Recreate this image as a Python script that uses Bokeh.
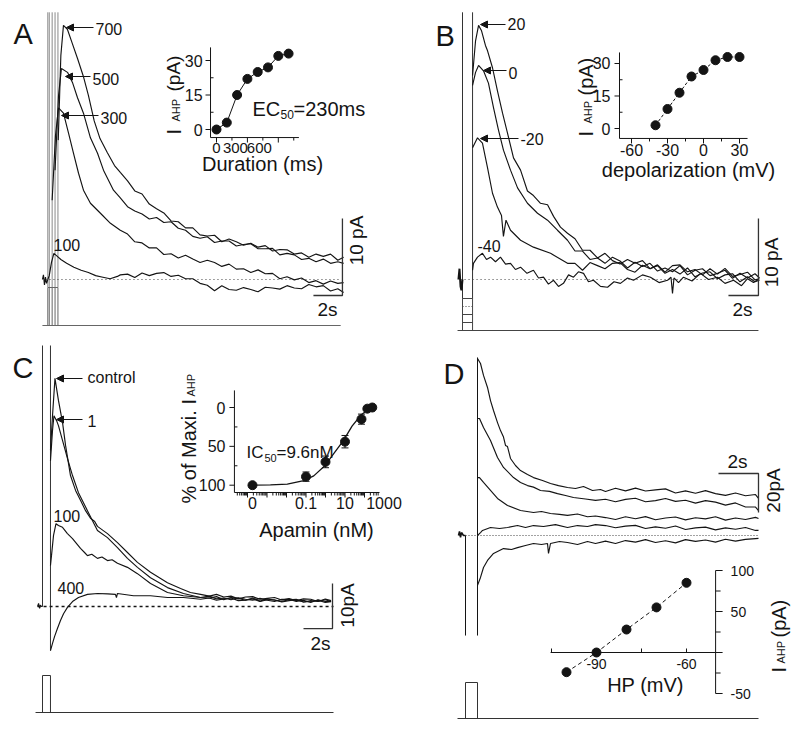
import math
from bokeh.plotting import figure
from bokeh.models import Range1d, LogScale, Arrow, NormalHead
from bokeh.core.properties import value
from bokeh.embed import file_html
from bokeh.resources import INLINE

# ============================ DATA ============================
# ---- Panel A: I_AHP after depolarizing pulses of 100-700 ms (time s, current pA)
A_PULSES_S = [0.1, 0.3, 0.5, 0.7]
A_PRE = [(-0.37, 0.0), (-0.30, 0.6), (-0.23, -0.7), (-0.16, 0.3), (-0.09, -0.5), (0.0, 0.0)]
A_TAIL_T = [5.0, 5.5, 6.0, 6.5, 7.0, 7.5, 8.0, 8.5, 9.0, 9.5, 10.0, 10.5, 11.0, 11.5, 12.0, 12.5,
            13.0, 13.5, 14.0, 14.5, 15.0, 15.5, 16.0, 16.5, 17.0, 17.5, 18.0, 18.5, 19.0, 19.5, 20.0, 20.4]
A700_EARLY = [(0.72, 18.1), (0.90, 29.1), (1.08, 33.0), (1.35, 32.5), (1.70, 30.6), (2.05, 28.7),
              (2.45, 26.4), (2.80, 23.9), (3.20, 20.6), (3.60, 18.3), (4.10, 16.5), (4.60, 14.8)]
A700_TAIL = [13.9, 12.8, 11.5, 11.1, 9.8, 9.2, 8.65, 7.6, 7.5, 6.7, 6.7, 5.8, 5.65, 5.75, 4.9, 5.25,
             4.9, 4.45, 4.7, 4.2, 4.4, 3.7, 3.9, 3.85, 3.3, 3.45, 2.9, 3.3, 3.0, 3.3, 2.5, 2.9]
A500_EARLY = [(0.50, 14.2), (0.74, 23.9), (0.94, 27.4), (1.36, 26.9), (1.70, 25.6), (2.05, 23.6),
              (2.46, 21.6), (2.94, 18.4), (3.43, 16.4), (3.84, 14.2), (4.53, 11.6)]
A500_TAIL = [10.6, 9.45, 8.9, 8.5, 7.85, 8.05, 7.4, 7.5, 6.65, 6.4, 5.6, 5.35, 5.55, 4.8, 5.0, 5.0,
             4.35, 4.55, 4.65, 4.0, 4.0, 4.05, 3.2, 3.4, 3.2, 2.6, 2.75, 2.3, 2.65, 2.1, 2.3, 2.1]
A300_EARLY = [(0.30, 10.3), (0.53, 18.7), (0.74, 22.3), (1.08, 21.6), (1.43, 19.0), (1.77, 16.4),
              (2.12, 13.8), (2.46, 11.6), (2.94, 9.9), (3.63, 8.6), (4.32, 7.3)]
A300_TAIL = [6.4, 5.9, 4.9, 4.75, 4.1, 4.1, 3.25, 3.35, 2.8, 3.15, 2.65, 2.2, 2.5, 2.2, 1.7, 2.0,
             1.35, 1.4, 0.9, 1.25, 0.75, 0.8, 0.1, 0.35, -0.05, 0.2, -0.4, -0.15, -0.6, -0.2, -0.5, -0.4]
A100_EARLY = [(0.0, 0.0), (0.10, 0.5), (0.25, 2.2), (0.42, 3.4), (0.60, 3.1), (0.90, 2.6),
              (1.30, 2.1), (1.80, 1.6), (2.30, 1.2), (2.80, 0.9), (3.30, 0.5), (3.80, 0.3),
              (4.30, 0.1), (4.80, 0.4)]
A100_TAIL = [0.6, 0.7, 0.25, 0.85, 0.5, 0.8, 0.9, 0.4, 0.55, 0.1, 0.1, -0.5, -0.75, -1.45, -0.8, -1.3,
             -1.4, -1.05, -1.3, -1.6, -1.0, -1.1, -1.25, -0.8, -1.1, -1.2, -0.65, -0.95, -0.8, -1.5, -1.2, -1.7]
A_DUR_MS = [0, 100, 200, 300, 400, 500, 600, 700]
A_IAHP = [0, 3, 15, 22, 25, 27, 32, 33]

# ---- Panel B: I_AHP after steps to -40..+20 mV (time s, current pA)
B_HOLD_MV = -60
B_STEPS_MV = [-40, -20, 0, 20]
B_PULSE_S = 0.67
B_PRE = [(-0.27, 0.0), (-0.20, 1.4), (-0.13, -0.9), (-0.07, -1.4), (0.0, 0.0)]
B_TAIL_T = [7.5, 8.0, 8.5, 9.0, 9.5, 10.0, 10.5, 11.0, 11.5, 12.0, 12.5, 13.0, 13.5, 14.0,
            14.5, 15.0, 15.5, 16.0, 16.5, 17.0, 17.5, 18.0, 18.5, 19.0, 19.5, 19.8]
B20_EARLY = [(0.67, 26.5), (0.87, 31.0), (1.07, 33.0), (1.27, 32.3), (1.53, 30.4), (1.67, 29.7),
             (2.00, 27.5), (2.33, 24.5), (2.67, 21.6), (3.00, 19.0), (3.40, 15.8), (3.87, 14.2),
             (4.33, 11.5), (4.73, 10.9), (5.20, 9.9), (5.67, 9.7), (6.07, 8.2), (6.53, 6.8), (7.00, 6.0)]
B20_TAIL = [5.3, 3.8, 3.8, 2.8, 3.4, 2.45, 2.0, 2.6, 2.1, 2.45, 1.4, 1.9, 0.95, 1.8, 1.9, 1.0,
            1.3, 0.6, 1.4, 0.7, 1.45, 0.4, 0.65, 0.95, -0.05, 0.1]
B0_EARLY = [(0.67, 25.2), (0.87, 26.9), (1.07, 27.8), (1.40, 27.1), (1.73, 25.5), (2.07, 22.3),
            (2.40, 19.4), (2.73, 16.8), (3.20, 14.2), (3.67, 11.9), (4.33, 9.9), (5.00, 8.6),
            (5.67, 7.7), (6.33, 6.4), (7.00, 5.1)]
B0_TAIL = [3.7, 3.7, 2.6, 2.8, 2.1, 2.9, 2.4, 1.5, 2.25, 1.7, 2.1, 1.1, 1.5, 1.0, 1.8, 0.6,
           1.2, 1.4, 0.5, 0.8, 1.2, 0.15, 0.8, 0.2, 0.75, 0.2]
BM20_EARLY = [(0.67, 17.1), (1.00, 18.4), (1.33, 17.7), (1.67, 14.5), (2.00, 11.2), (2.33, 9.4),
              (2.60, 8.3), (2.73, 5.6), (2.90, 7.7), (3.20, 6.4), (3.87, 5.1), (4.73, 4.2),
              (5.87, 3.4), (7.00, 2.1)]
BM20_TAIL = [2.1, 1.2, 2.2, 1.8, 1.4, 2.1, 2.2, 1.3, 0.95, 1.85, 1.4, 1.8, 0.8, 1.3, 0.7, 1.5,
             0.35, 0.85, 1.0, 0.1, 0.6, 0.75, -0.3, 0.35, -0.3, -0.1]
BM40 = [(0.67, 1.2), (0.73, 2.1), (1.00, 2.9), (1.33, 3.4), (1.60, 2.6), (1.87, 2.9), (2.20, 2.3),
        (2.53, 2.9), (2.87, 2.0), (3.20, 2.1), (3.53, 1.3), (3.87, 1.6), (4.30, 0.8), (4.73, 1.2),
        (5.07, 0.2), (5.40, 0.3), (5.73, -0.6), (6.07, -0.1), (6.40, -0.9), (6.73, -0.5),
        (7.07, 0.6), (7.40, 0.3), (7.73, 1.0), (8.07, 0.8), (8.40, -0.3), (8.73, -0.1),
        (9.20, -0.9), (9.67, -1.0), (10.10, -0.3), (10.53, -0.5), (11.00, 0.2), (11.40, -0.1),
        (12.00, 0.6), (12.53, 0.3), (13.10, -0.4), (13.67, -0.1), (13.90, 0.3), (14.00, -1.8),
        (14.10, 0.2), (14.40, -0.4), (14.73, 0.3), (15.30, -0.2), (15.87, 0.8), (16.40, 0.0),
        (17.00, 0.3), (17.50, -0.5), (18.07, -0.1), (18.60, -0.8), (19.00, 0.1), (19.40, -0.4),
        (19.73, 0.0)]
B_DEPOL_MV = [-40, -30, -20, -10, 0, 10, 20, 30]
B_IAHP = [1.5, 9.0, 16.5, 24.0, 27.0, 31.5, 33.0, 33.0]

# ---- Panel C: apamin block (time s, current pA)
C_PULSE_S = 0.55
C_PRE = [(-0.34, 0.0), (-0.27, 0.7), (-0.20, -0.4), (-0.14, 0.3), (-0.07, 0.0), (0.0, 0.0)]
C_TAIL_T = [11.5, 12.0, 12.5, 13.0, 13.5, 14.0, 14.5, 15.0, 15.5, 16.0, 16.5, 17.0, 17.5,
            18.0, 18.5, 19.0, 19.5, 19.9]
CCTL_EARLY = [(0.55, 34.7), (0.69, 42.4), (0.86, 50.7), (1.10, 45.8), (1.38, 40.9), (1.59, 35.8),
              (1.93, 29.1), (2.28, 25.8), (2.62, 23.6), (2.97, 21.3), (3.31, 19.6), (3.60, 18.9),
              (3.79, 17.8), (4.48, 16.2), (5.17, 14.2), (5.86, 12.0), (6.55, 9.8), (7.45, 7.6),
              (8.62, 5.3), (9.52, 4.0), (10.2, 3.1), (10.9, 2.7)]
CCTL_TAIL = [2.3, 2.7, 2.1, 2.3, 1.7, 2.1, 2.2, 1.6, 1.8, 2.0, 1.45, 1.75, 1.3, 1.7, 1.6, 1.1, 1.65, 1.3]
C1_EARLY = [(0.55, 32.4), (0.69, 39.1), (0.79, 42.4), (0.97, 41.3), (1.10, 40.2), (1.38, 36.9),
            (1.72, 32.9), (2.07, 29.1), (2.48, 25.3), (3.10, 21.3), (3.79, 16.9), (4.48, 15.3),
            (5.17, 13.1), (5.86, 10.7), (6.55, 8.7), (7.45, 6.4), (8.62, 4.2), (9.72, 2.9), (10.9, 2.0)]
C1_TAIL = [2.3, 1.7, 1.9, 1.5, 1.95, 1.6, 1.4, 1.8, 1.4, 1.1, 1.6, 1.6, 1.1, 1.4, 0.9, 1.5, 1.1, 1.1]
C100_EARLY = [(0.55, 9.1), (0.62, 11.3), (0.76, 15.8), (0.93, 18.4), (1.10, 18.0), (1.38, 17.6),
              (1.72, 16.2), (2.07, 15.1), (2.62, 12.9), (2.90, 12.0), (3.10, 11.3), (3.40, 11.6),
              (3.79, 10.7), (4.10, 11.0), (4.48, 10.2), (4.80, 10.4), (5.17, 9.6), (5.86, 8.7),
              (6.55, 7.3), (7.45, 5.1), (8.62, 3.1), (9.72, 2.4), (10.9, 2.0)]
C100_TAIL = [1.9, 2.2, 1.5, 2.0, 1.8, 1.4, 1.9, 1.2, 1.7, 1.4, 1.15, 1.5, 1.6, 1.0, 1.3, 1.1, 1.5, 1.1]
C400_EARLY = [(0.55, -9.8), (0.69, -8.2), (0.83, -6.7), (1.03, -4.9), (1.24, -3.1), (1.45, -1.6),
              (1.72, -0.2), (2.07, 1.1), (2.48, 2.0), (3.10, 2.7), (3.80, 2.9), (4.50, 2.8),
              (5.03, 2.7), (5.10, 2.0), (5.17, 2.9), (6.28, 2.4), (7.45, 2.4), (8.62, 2.0),
              (9.72, 2.0), (10.9, 1.6)]
C400_TAIL = [1.9, 1.4, 1.7, 1.9, 1.3, 1.4, 1.7, 1.1, 1.5, 1.5, 1.0, 1.3, 1.5, 1.0, 1.1, 1.4, 0.9, 1.1]
C_APAMIN_NM = [0, 0.1, 1, 10, 70, 140, 250]
C_PCT = [100, 89, 70, 44, 15, 1.5, 0]
C_ERR = [0, 6, 7.5, 8, 6.5, 2, 1]
C_FIT_NM = [0, 0.0015, 0.011, 0.077, 0.25, 0.92, 2.7, 8.1, 23, 70, 200, 370]
C_FIT_PCT = [100, 99.5, 98.5, 94, 88, 75, 59, 43, 24, 9, 1, -1]
C_ZERO_AT = 1.8e-4      # where the "0" (control) sits on the broken log axis

# ---- Panel D: holding potential series (time s, current pA)
D_PULSE_S = 0.6
D_PRE = [(-0.35, 0.0), (-0.30, 2.1), (-0.25, -1.0), (-0.20, 1.5), (-0.10, 0.0), (0.0, 0.0)]
D_TAIL_T = [7.0, 7.5, 8.0, 8.5, 9.0, 9.5, 10.0, 10.5, 11.0, 11.5, 12.0, 12.5, 13.0, 13.5, 14.0, 14.5, 14.65]
D60_EARLY = [(0.6, 90.8), (0.75, 88.2), (0.9, 82.1), (1.1, 75.9), (1.25, 69.2), (1.4, 64.1),
             (1.6, 57.9), (1.75, 53.8), (1.9, 50.5), (2.0, 46.2), (2.1, 45.6), (2.25, 39.5),
             (2.5, 35.9), (2.75, 33.3), (3.1, 31.3), (3.4, 29.7), (3.85, 28.2), (4.25, 26.7),
             (4.65, 25.6), (5.1, 24.6), (5.5, 24.1), (5.9, 25.1), (6.35, 23.1), (6.75, 23.6)]
D60_TAIL = [22.6, 24.2, 22.9, 24.3, 22.8, 23.4, 23.9, 21.8, 22.9, 21.7, 23.0, 21.5, 20.6, 21.8, 20.4, 21.0, 19.0]
D70_EARLY = [(0.6, 60.0), (0.7, 60.0), (0.9, 55.4), (1.25, 48.7), (1.6, 40.0), (1.9, 34.9),
             (2.4, 29.7), (2.75, 27.2), (3.1, 25.6), (3.4, 24.8), (3.75, 23.1), (4.2, 22.6),
             (4.6, 21.5), (5.0, 20.5), (5.4, 19.5), (6.0, 18.7), (6.5, 18.0)]
D70_TAIL = [18.6, 17.3, 18.5, 19.1, 17.3, 17.9, 19.0, 17.5, 18.1, 16.6, 17.9, 17.1, 15.6, 16.7, 14.6, 14.6, 12.8]
D80_EARLY = [(0.6, 29.7), (0.7, 29.7), (0.9, 27.2), (1.25, 23.1), (1.6, 19.0), (2.1, 15.4),
             (2.75, 12.8), (3.4, 11.8), (3.8, 12.3), (4.25, 11.3), (4.7, 10.8), (5.1, 10.3),
             (5.6, 11.0), (6.1, 9.6), (6.5, 10.0)]
D80_TAIL = [9.2, 8.2, 9.6, 8.6, 9.7, 8.1, 9.0, 9.5, 8.0, 9.1, 8.5, 9.6, 7.9, 9.0, 8.2, 9.3, 8.7]
D90_EARLY = [(0.6, 0.0), (0.75, 1.5), (0.85, 2.6), (1.25, 4.1), (1.7, 3.6), (2.1, 4.1), (2.6, 5.1),
             (3.0, 4.1), (3.4, 5.1), (3.9, 4.6), (4.5, 5.6), (5.1, 4.1), (5.6, 5.1), (6.1, 4.6), (6.5, 5.6)]
D90_TAIL = [5.1, 4.0, 4.8, 5.2, 3.6, 4.4, 3.7, 4.9, 3.1, 3.9, 4.3, 2.9, 3.9, 3.2, 4.1, 2.6, 2.6]
D100_EARLY = [(0.6, -25.6), (0.75, -21.5), (0.9, -16.4), (1.1, -12.8), (1.4, -9.2), (1.9, -6.7),
              (2.3, -7.2), (2.6, -6.2), (3.0, -5.1), (3.4, -4.1), (3.8, -4.6), (4.1, -4.1),
              (4.15, -9.2), (4.25, -4.1), (4.7, -3.1), (5.1, -3.6), (5.6, -4.6), (6.1, -3.1), (6.5, -4.1)]
D100_TAIL = [-2.9, -4.1, -2.6, -3.4, -2.1, -3.6, -2.7, -3.8, -2.1, -3.0, -2.3, -3.4, -1.9, -2.9, -2.0, -1.6, -1.5]
D_HP_MV = [-100, -90, -80, -70, -60]
D_IAHP = [-24, 0, 28, 55, 85]

# ============================ LAYOUT ============================
FONT = value("Liberation Sans")
INK = "#141414"
W, H = 792, 724
FX0, FX1, FY0, FY1 = 0, W, 0, H


def lin_x(px, val, k):
    return Range1d(start=val + (FX0 - px) / k, end=val + (FX1 - px) / k)


def lin_y(px, val, k):
    return Range1d(start=val + (px - FY1) / k, end=val + (px - FY0) / k)


def log_x(px, val, k):
    l0 = math.log10(val)
    return Range1d(start=10 ** (l0 + (FX0 - px) / k), end=10 ** (l0 + (FX1 - px) / k))


p = figure(width=W, height=H, x_range=Range1d(FX0, FX1), y_range=Range1d(FY1, FY0),
           output_backend="svg", toolbar_location=None, title=None,
           x_axis_location=None, y_axis_location=None, min_border=0,
           outline_line_color=None, background_fill_color="white", border_fill_color="white")
p.grid.visible = False

p.extra_x_ranges = {
    "A_T": lin_x(47.3, 0, 14.5), "B_T": lin_x(462, 0, 15.0),
    "C_T": lin_x(42, 0, 14.5), "D_T": lin_x(465, 0, 20.0),
    "A_X": lin_x(216, 0, 0.103), "B_X": lin_x(703, 0, 1.2),
    "C_X": log_x(325, 1.0, 19.5), "D_X": lin_x(596, -90, 3.0),
}
p.extra_y_ranges = {
    "A_I": lin_y(279, 0, 7.7), "A_S": lin_y(325, 0, 38.0),
    "B_I": lin_y(279, 0, 7.7), "B_S": lin_y(330, -60, 0.4),
    "C_I": lin_y(606, 0, 4.5), "C_S": lin_y(712, 0, 37.0),
    "D_I": lin_y(535, 0, 1.95), "D_S": lin_y(718, 0, 36.0),
    "A_Y": lin_y(129, 0, 2.3), "B_Y": lin_y(128, 0, 2.167),
    "C_Y": lin_y(407, 0, -0.777), "D_Y": lin_y(652, 0, 0.82),
}
p.extra_x_scales = {"C_X": LogScale()}


def join(early, tail_t, tail_i):
    assert len(tail_t) == len(tail_i)
    return early + list(zip(tail_t, tail_i))


def trace(panel, pts, color=INK, width=1.15):
    p.line([a for a, _ in pts], [b for _, b in pts], x_range_name=panel + "_T",
           y_range_name=panel + "_I", line_color=color, line_width=width)


def seg(x0, y0, x1, y1, xr, yr, color=INK, width=1.0, dash="solid"):
    p.segment(x0=x0, y0=y0, x1=x1, y1=y1, x_range_name=xr, y_range_name=yr,
              line_color=color, line_width=width, line_dash=dash)


def txt(x, y, s, size, align="left", baseline="middle", angle=0.0, xr="default", yr="default",
        xo=0, yo=0):
    p.text(x=x if isinstance(x, list) else [x], y=y if isinstance(y, list) else [y],
           text=s if isinstance(s, list) else [s], x_range_name=xr, y_range_name=yr,
           text_font=FONT, text_font_size=f"{size}px", text_color=INK, text_align=align,
           text_baseline=baseline, angle=angle, x_offset=xo, y_offset=yo)


def arrow(x0, y0, x1, y1):
    p.add_layout(Arrow(x_start=x0, y_start=y0, x_end=x1, y_end=y1, line_color=INK, line_width=1,
                       end=NormalHead(size=7, fill_color=INK, line_color=INK, line_width=1)))


def scalebar(panel, t0, i0, dt, di):
    p.line([t0 - dt, t0, t0], [i0, i0, i0 + di], x_range_name=panel + "_T",
           y_range_name=panel + "_I", line_color="#333333", line_width=1.3)


# ---------------------------- Panel A ----------------------------
GREY = "#8a8a8a"
seg([0] + A_PULSES_S, [34.7] * 5, [0] + A_PULSES_S, [-1.0] * 5, "A_T", "A_I", color=GREY)
seg([-0.37, 0, 0] + A_PULSES_S, [0, 1, 0, 0, 0, 0, 0], [20.2, max(A_PULSES_S), 0] + A_PULSES_S,
    [0, 1, 1, 1, 1, 1, 1], "A_T", "A_S", color="#666666")
seg([-0.16], [0], [20.2], [0], "A_T", "A_I", color="#444444", dash="1 3")
trace("A", A_PRE)
trace("A", join(A100_EARLY, A_TAIL_T, A100_TAIL))
trace("A", join(A300_EARLY, A_TAIL_T, A300_TAIL))
trace("A", join(A500_EARLY, A_TAIL_T, A500_TAIL))
trace("A", join(A700_EARLY, A_TAIL_T, A700_TAIL))
scalebar("A", 20.32, -2.08, 2, 10)

# ---------------------------- Panel B ----------------------------
seg([0, B_PULSE_S], [34.7, 34.7], [0, B_PULSE_S], [-2.5, -2.5], "B_T", "B_I", color="#333333")
seg([-0.33, 0, B_PULSE_S], [B_HOLD_MV, B_HOLD_MV, B_HOLD_MV], [19.73, 0, B_PULSE_S],
    [B_HOLD_MV, max(B_STEPS_MV), max(B_STEPS_MV)], "B_T", "B_S", color="#444444")
for lv in B_STEPS_MV:
    seg([0], [lv], [B_PULSE_S], [lv], "B_T", "B_S", color="#444444",
        dash="1 2" if lv == 0 else "solid")
seg([-0.13], [0], [19.67], [0], "B_T", "B_I", color="#444444", dash="1 3")
trace("B", B_PRE, width=2.0)
trace("B", BM40)
trace("B", join(BM20_EARLY, B_TAIL_T, BM20_TAIL))
trace("B", join(B0_EARLY, B_TAIL_T, B0_TAIL))
trace("B", join(B20_EARLY, B_TAIL_T, B20_TAIL))
scalebar("B", 19.73, -2.08, 2, 10)

# ---------------------------- Panel C ----------------------------
seg([0, C_PULSE_S], [58, 58], [0, C_PULSE_S], [0, -9.8], "C_T", "C_I", color="#333333")
seg([-0.48, 0, 0, C_PULSE_S], [0, 0, 1, 1], [20.07, 0, C_PULSE_S, C_PULSE_S], [0, 1, 1, 0],
    "C_T", "C_S", color="#333333")
seg([-0.34], [0], [20.07], [0], "C_T", "C_I", color=INK, width=1.6, dash="3 3")
trace("C", C_PRE)
trace("C", join(C400_EARLY, C_TAIL_T, C400_TAIL))
trace("C", join(C100_EARLY, C_TAIL_T, C100_TAIL))
trace("C", join(C1_EARLY, C_TAIL_T, C1_TAIL))
trace("C", join(CCTL_EARLY, C_TAIL_T, CCTL_TAIL))
scalebar("C", 20.0, -4.9, 2, 10)

# ---------------------------- Panel D ----------------------------
seg([0, D_PULSE_S], [0, 91.3], [0, D_PULSE_S], [-51.3, -51.3], "D_T", "D_I", color=INK)
seg([-0.4, 0, 0, D_PULSE_S], [0, 0, 1, 1], [14.65, 0, D_PULSE_S, D_PULSE_S], [0, 1, 1, 0],
    "D_T", "D_S", color="#333333")
seg([0], [0], [14.65], [0], "D_T", "D_I", color="#444444", dash="1 2")
trace("D", D_PRE, width=1.6)
trace("D", join(D100_EARLY, D_TAIL_T, D100_TAIL))
trace("D", join(D90_EARLY, D_TAIL_T, D90_TAIL))
trace("D", join(D80_EARLY, D_TAIL_T, D80_TAIL))
trace("D", join(D70_EARLY, D_TAIL_T, D70_TAIL))
trace("D", join(D60_EARLY, D_TAIL_T, D60_TAIL))
p.line([14.65 - 2, 14.65, 14.65], [31.8, 31.8, 11.8], x_range_name="D_T", y_range_name="D_I",
       line_color="#333333", line_width=1.3)

# ---------------------------- Inset A ----------------------------
ax0, ax1, ay0, ay1, kx, ky = -58, 800, -3.5, 35.7, 0.103, 2.3
seg([ax0, ax0], [ay0, ay0], [ax0, ax1], [ay1, ay0], "A_X", "A_Y")
seg([ax0] * 3, [0, 15, 30], [ax0 - 5 / kx] * 3, [0, 15, 30], "A_X", "A_Y")
seg([ax0] * 2, [7.5, 22.5], [ax0 + 3 / kx] * 2, [7.5, 22.5], "A_X", "A_Y")
seg([0, 300, 600], [ay0] * 3, [0, 300, 600], [ay0 - 5 / ky] * 3, "A_X", "A_Y")
seg([150, 450, 750], [ay0] * 3, [150, 450, 750], [ay0 - 3 / ky] * 3, "A_X", "A_Y")
p.line(A_DUR_MS, A_IAHP, x_range_name="A_X", y_range_name="A_Y", line_color=INK, line_width=1)
p.scatter(A_DUR_MS, A_IAHP, x_range_name="A_X", y_range_name="A_Y", marker="circle", size=9,
          fill_color=INK, line_color=INK)
txt([ax0] * 3, [0, 15, 30], ["0", "15", "30"], 16, align="right", xr="A_X", yr="A_Y", xo=-8)
txt([0, 300, 600], [ay0] * 3, ["0", "300", "600"], 15, align="center", baseline="top",
    xr="A_X", yr="A_Y", xo=[0, -12, -19], yo=5)

# ---------------------------- Inset B ----------------------------
bx0, bx1, by0, by1, kx, ky = -70, 36.7, -4.6, 35.1, 1.2, 2.167
seg([bx0, bx0], [by0, by0], [bx0, bx1], [by1, by0], "B_X", "B_Y")
seg([bx0] * 3, [0, 15, 30], [bx0 - 5 / kx] * 3, [0, 15, 30], "B_X", "B_Y")
seg([bx0] * 2, [7.5, 22.5], [bx0 + 3 / kx] * 2, [7.5, 22.5], "B_X", "B_Y")
seg([-60, -30, 0, 30], [by0] * 4, [-60, -30, 0, 30], [by0 - 5 / ky] * 4, "B_X", "B_Y")
seg([-45, -15, 15], [by0] * 3, [-45, -15, 15], [by0 - 3 / ky] * 3, "B_X", "B_Y")
p.line(B_DEPOL_MV, B_IAHP, x_range_name="B_X", y_range_name="B_Y", line_color=INK,
       line_width=1, line_dash="3 2")
p.scatter(B_DEPOL_MV, B_IAHP, x_range_name="B_X", y_range_name="B_Y", marker="circle", size=9,
          fill_color=INK, line_color=INK)
txt([bx0] * 3, [0, 15, 30], ["0", "15", "30"], 16, align="right", xr="B_X", yr="B_Y", xo=-9)
txt([-60, -30, 0, 30], [by0] * 4, ["-60", "-30", "0", "30"], 16, align="center", baseline="top",
    xr="B_X", yr="B_Y", yo=6)

# ---------------------------- Inset C ----------------------------
cx0, cx1, cy_top, cy_bot = 10 ** -4.67, 590.0, -22.0, 109.4
seg([cx0, cx0], [cy_bot, cy_bot], [cx0, cx1], [cy_top, cy_bot], "C_X", "C_Y")
f5, f3 = 10 ** (5 / 19.5), 10 ** (3 / 19.5)
seg([cx0] * 3, [0, 50, 100], [cx0 / f5] * 3, [0, 50, 100], "C_X", "C_Y")
seg([cx0] * 2, [25, 75], [cx0 * f3] * 2, [25, 75], "C_X", "C_Y")
dec = [10.0 ** e for e in range(-4, 3)]
mins = [m * 10.0 ** e for e in range(-5, 3) for m in range(2, 10) if cx0 <= m * 10.0 ** e <= cx1]
seg(dec, [cy_bot] * len(dec), dec, [cy_bot + 5 / 0.777] * len(dec), "C_X", "C_Y")
seg(mins, [cy_bot] * len(mins), mins, [cy_bot + 3 / 0.777] * len(mins), "C_X", "C_Y")
fit_x = [C_ZERO_AT if c == 0 else c for c in C_FIT_NM]
p.line(fit_x, C_FIT_PCT, x_range_name="C_X", y_range_name="C_Y", line_color=INK, line_width=1.3)
cxs = [C_ZERO_AT if c == 0 else c for c in C_APAMIN_NM]
eb = [(c, v, e) for c, v, e in zip(cxs, C_PCT, C_ERR) if e > 0]
cap = 10 ** (3.5 / 19.5)
seg([c for c, _, _ in eb], [v - e for _, v, e in eb], [c for c, _, _ in eb], [v + e for _, v, e in eb],
    "C_X", "C_Y")
seg([c / cap for c, _, _ in eb] * 2, [v - e for _, v, e in eb] + [v + e for _, v, e in eb],
    [c * cap for c, _, _ in eb] * 2, [v - e for _, v, e in eb] + [v + e for _, v, e in eb],
    "C_X", "C_Y")
p.scatter(cxs, C_PCT, x_range_name="C_X", y_range_name="C_Y", marker="circle", size=9,
          fill_color=INK, line_color=INK)
txt([cx0] * 3, [0, 50, 100], ["0", "50", "100"], 16, align="right", xr="C_X", yr="C_Y", xo=-9)
txt([C_ZERO_AT, 0.1, 10, 1000], [cy_bot] * 4, ["0", "0.1", "10", "1000"], 16, align="center",
    baseline="top", xr="C_X", yr="C_Y", yo=4)

# ---------------------------- Inset D ----------------------------
dx0, dx1, dy0, dy1, kx, ky = -105.3, -50.3, -50, 100, 3.0, 0.82
seg([dx0, dx1], [0, dy0], [dx1, dx1], [0, dy1], "D_X", "D_Y")
seg([dx1] * 4, [-50, 0, 50, 100], [dx1 + 7 / kx] * 4, [-50, 0, 50, 100], "D_X", "D_Y")
seg([dx1] * 3, [-25, 25, 75], [dx1 + 5 / kx] * 3, [-25, 25, 75], "D_X", "D_Y")
seg([-105, -90, -75, -60], [0] * 4, [-105, -90, -75, -60], [4 / ky] * 4, "D_X", "D_Y")
p.line(D_HP_MV, D_IAHP, x_range_name="D_X", y_range_name="D_Y", line_color=INK, line_width=1,
       line_dash="4 3")
p.scatter(D_HP_MV, D_IAHP, x_range_name="D_X", y_range_name="D_Y", marker="circle", size=9,
          fill_color=INK, line_color=INK)
txt([dx1] * 3, [100, 50, -50], ["100", "50", "-50"], 14, align="left", xr="D_X", yr="D_Y", xo=15)
txt([-90, -60], [0, 0], ["-90", "-60"], 14, align="center", baseline="top", xr="D_X", yr="D_Y", yo=6)

# ---------------------------- Text (page pixels) ----------------------------
for s, x, y in [("A", 13, 33), ("B", 435, 35), ("C", 12, 367), ("D", 443, 373)]:
    txt(x, y, s, 29, baseline="alphabetic")

for s, x, y in [("700", 95, 28), ("500", 92, 78), ("300", 100, 117), ("100", 53, 244),
                ("20", 507, 23), ("0", 508, 72), ("-20", 520, 138), ("-40", 477, 245),
                ("control", 87, 377), ("1", 87, 420), ("100", 53, 515), ("400", 57, 587)]:
    txt(x, y, s, 16)

for x0, y0, x1, y1 in [(93, 27, 66, 27), (90, 76, 65, 76), (98, 115, 61, 115),
                       (505, 24, 480, 24), (506, 70, 483, 70), (518, 138, 480, 138),
                       (82, 378, 56, 378), (82, 419, 56, 419)]:
    arrow(x0, y0, x1, y1)

HALF_PI = math.pi / 2
for s, x, y, rot in [("2s", 327, 309, 0), ("10 pA", 356, 240, HALF_PI),
                     ("2s", 742, 309, 0), ("10 pA", 771, 262, HALF_PI),
                     ("2s", 320, 643, 0), ("10pA", 347, 605, HALF_PI),
                     ("2s", 737, 461, 0), ("20pA", 773, 490, HALF_PI)]:
    txt(x, y, s, 19, align="center", angle=rot)

txt(262, 163, "Duration (ms)", 20, align="center")
txt(688, 169, "depolarization (mV)", 20, align="center")
txt(316, 529, "Apamin (nM)", 20, align="center")
txt(645, 684, "HP (mV)", 20, align="center")

# rotated y titles with subscript
for pieces in [[("I", 173, 134, 20), ("AHP", 175, 121, 11), ("(pA)", 173, 91, 19)],
               [("I", 585, 136, 20), ("AHP", 587, 123, 11), ("(pA)", 585, 95, 20)],
               [("% of Maxi. I", 188, 503, 20), ("AHP", 190, 396, 11)],
               [("I", 778, 672, 20), ("AHP", 780, 663, 11), ("(pA)", 778, 637, 20)]]:
    for s, x, y, sz in pieces:
        txt(x, y, s, sz, baseline="alphabetic", angle=HALF_PI)

txt(252, 108, "EC", 20, baseline="alphabetic")
txt(280, 114, "50", 12, baseline="alphabetic")
txt(293, 108, "=230ms", 20, baseline="alphabetic")
txt(246, 452, "IC", 17, baseline="alphabetic")
txt(264, 457, "50", 11, baseline="alphabetic")
txt(276, 452, "=9.6nM", 17, baseline="alphabetic")

open("out.html", "w").write(file_html(p, INLINE))
